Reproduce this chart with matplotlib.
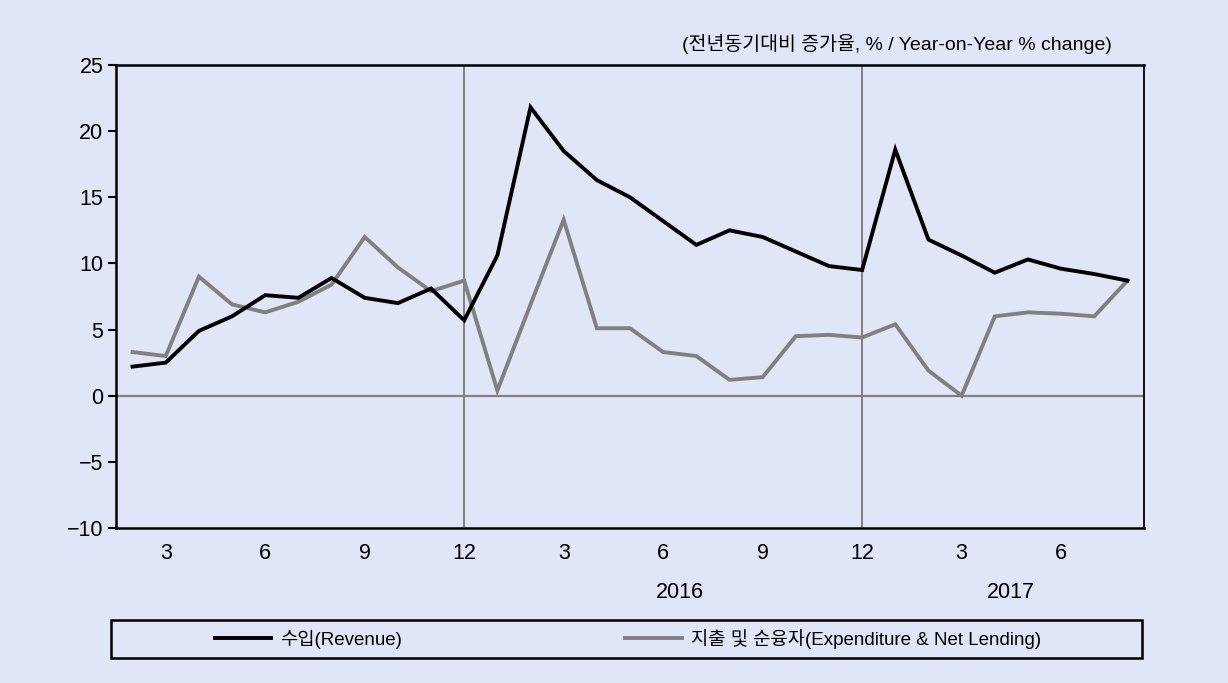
import matplotlib
matplotlib.use("Agg")
import matplotlib.pyplot as plt
from matplotlib.patches import Rectangle
from matplotlib.transforms import blended_transform_factory

plt.rcParams['font.family'] = ['Liberation Sans', 'Noto Sans CJK KR', 'DejaVu Sans']

# monthly series, Feb 2015 .. Aug 2017
months = [2, 3, 4, 5, 6, 7, 8, 9, 10, 11, 12,
          1, 2, 3, 4, 5, 6, 7, 8, 9, 10, 11, 12,
          1, 2, 3, 4, 5, 6, 7, 8]
revenue = [2.2, 2.5, 4.9, 6.0, 7.6, 7.4, 8.9, 7.4, 7.0, 8.1, 5.7,
           10.6, 21.8, 18.5, 16.3, 15.0, 13.2, 11.4, 12.5, 12.0, 10.9, 9.8, 9.5,
           18.6, 11.8, 10.6, 9.3, 10.3, 9.6, 9.2, 8.7]
expenditure = [3.3, 3.0, 9.0, 6.9, 6.3, 7.1, 8.4, 12.0, 9.7, 7.9, 8.7,
               0.4, 6.9, 13.3, 5.1, 5.1, 3.3, 3.0, 1.2, 1.4, 4.5, 4.6, 4.4,
               5.4, 1.9, 0.0, 6.0, 6.3, 6.2, 6.0, 8.7]
years = [("2016", 16.5), ("2017", 26.5)]
yticks = [25, 20, 15, 10, 5, 0, -5, -10]

names = ["수입(Revenue)", "지출 및 순융자(Expenditure & Net Lending)"]
unit_note = "(전년동기대비 증가율, % / Year-on-Year % change)"

bg = '#e0e5f8'
fig = plt.figure(figsize=(12.28, 6.83), dpi=100, facecolor=bg)
ax = fig.add_axes([116/1228, 1 - 528/683, (1144-116)/1228, (528-65)/683], facecolor=bg)

x = list(range(len(months)))
ax.axhline(0, color='#808080', lw=1.6, zorder=1)
for i, m in enumerate(months):
    if m == 12:
        ax.axvline(i, color='#808080', lw=1.4, zorder=1)

l1, = ax.plot(x, revenue, color='black', lw=2.8, zorder=3, solid_joinstyle='miter')
l2, = ax.plot(x, expenditure, color='#808080', lw=2.8, zorder=2, solid_joinstyle='miter')

ax.set_xlim(-0.5, len(months) - 0.5)
ax.set_ylim(-10, 25)
ax.set_yticks(yticks)
ax.set_yticklabels([f"{v}".replace('-', '\u2212') for v in yticks])

tick_pos = [i for i, m in enumerate(months) if m % 3 == 0]
ax.set_xticks(tick_pos)
ax.set_xticklabels([str(months[i]) for i in tick_pos])

ax.tick_params(axis='y', direction='out', length=6, width=1.5, pad=3,
               labelsize=15.5, colors='black')
ax.tick_params(axis='x', length=0, pad=11, labelsize=15.5)
for s in ['left', 'bottom', 'top']:
    ax.spines[s].set_linewidth(1.8)
ax.spines['right'].set_linewidth(1.3)

tr = blended_transform_factory(ax.transData, fig.transFigure)
for label, xpos in years:
    ax.text(xpos, 1 - 592/683, label, transform=tr, ha='center', va='center', fontsize=15.5)

fig.text(1112/1228, 1 - 44/683, unit_note, ha='right', va='center', fontsize=14)

# legend box spanning the chart width
fig.patches.append(Rectangle((111/1228, 1 - 658/683), (1142-111)/1228, 38/683,
                             transform=fig.transFigure, facecolor='none',
                             edgecolor='black', lw=1.8))
fig.legend([l1, l2], names, loc='center', bbox_to_anchor=(628/1228, 1 - 639/683),
           ncol=2, frameon=False, fontsize=13.5, handlelength=3.0,
           handletextpad=0.5, columnspacing=11.9)

fig.savefig("out.png", dpi=100, facecolor=bg)
